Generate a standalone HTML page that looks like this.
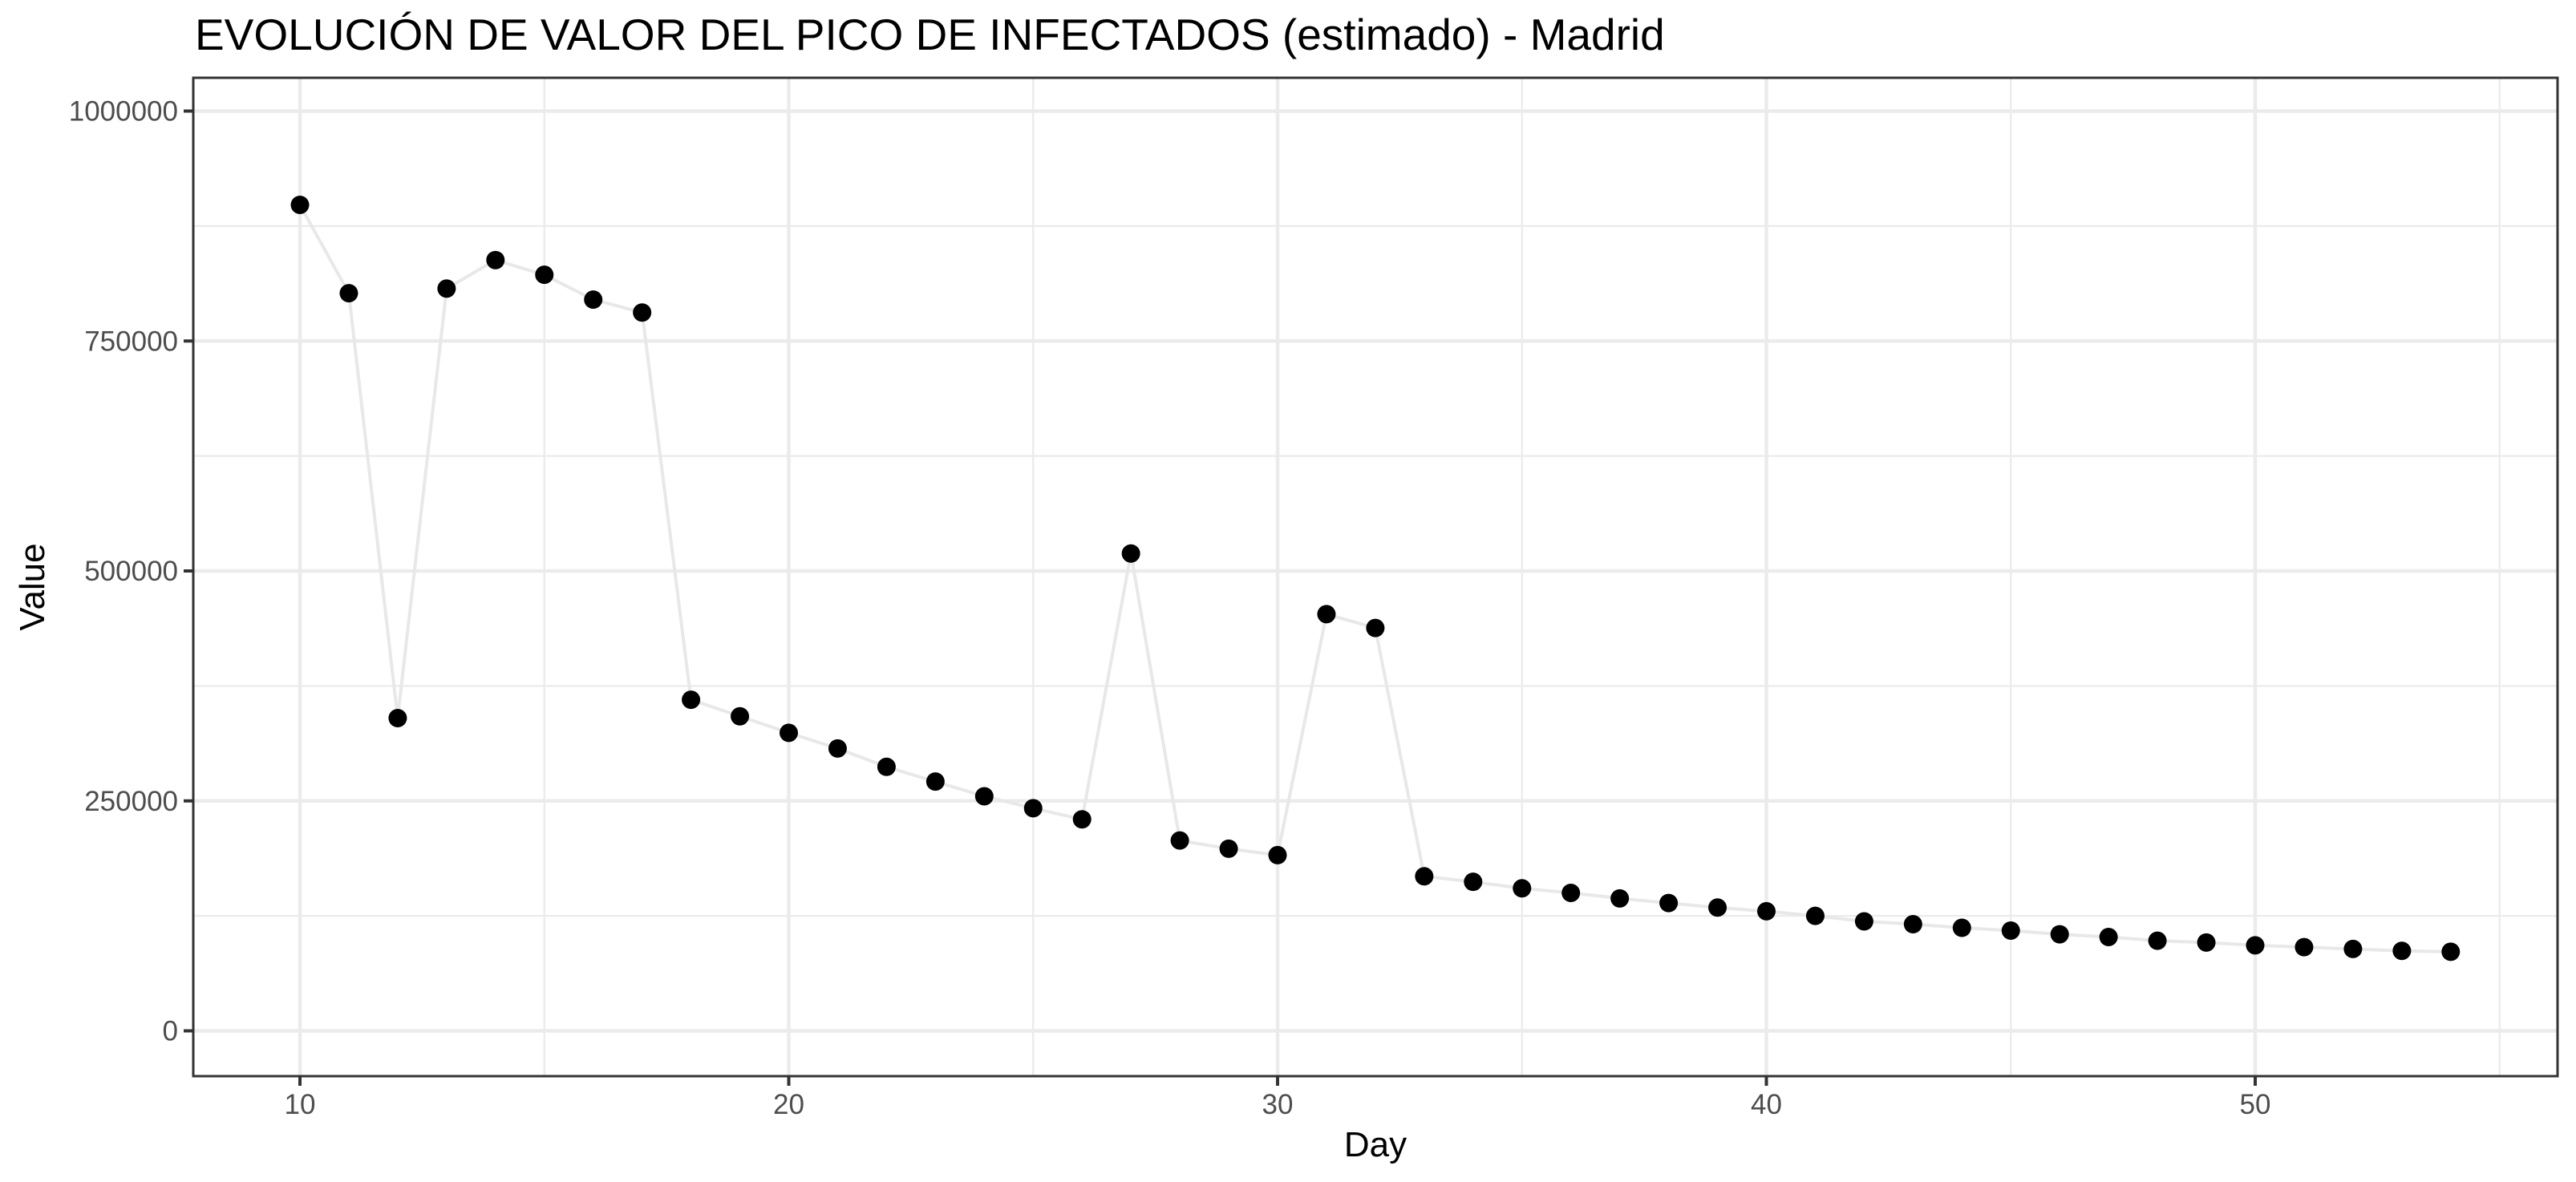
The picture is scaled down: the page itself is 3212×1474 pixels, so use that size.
<!DOCTYPE html>
<html><head><meta charset="utf-8"><style>
html,body{margin:0;padding:0;background:#fff;}
svg{display:block;font-family:"Liberation Sans",Arial,sans-serif;}
</style></head><body>
<svg id="chart" width="3212" height="1474" viewBox="0 0 3212 1474">
<rect x="0" y="0" width="3212" height="1474" fill="#fff"/>
<text x="243" y="62" font-size="55" fill="#000">EVOLUCIÓN DE VALOR DEL PICO DE INFECTADOS (estimado) - Madrid</text>
<g id="grid"></g>
<g id="series"></g>
<rect x="241" y="97" width="2948" height="1245" fill="none" stroke="#333" stroke-width="3"/>
<g id="axes"></g>
<text x="1715" y="1442" font-size="44" text-anchor="middle" fill="#000">Day</text>
<text transform="translate(55,732) rotate(-90)" font-size="44" text-anchor="middle" fill="#000">Value</text>
</svg>
<script>
const days = [10,11,12,13,14,15,16,17,18,19,20,21,22,23,24,25,26,27,28,29,30,31,32,33,34,35,36,37,38,39,40,41,42,43,44,45,46,47,48,49,50,51,52,53,54];
const values = [898000,802000,340000,807000,838000,822000,795000,781000,360000,342000,324000,307000,287000,271000,255000,242000,230000,519000,207000,198000,191000,453000,438000,168000,162000,155000,150000,144000,139000,134000,130000,125000,119000,116000,112000,109000,105000,102000,98000,96000,93000,91000,89000,87000,86000];
const xTicks = [10,20,30,40,50];
const xMinor = [15,25,35,45,55];
const yTicks = [0,250000,500000,750000,1000000];
const yMinor = [125000,375000,625000,875000];
const yTickLabels = ["0","250000","500000","750000","1000000"];

const X0=241,X1=3189,Y0=97,Y1=1342;
function xs(d){return 374+(d-10)*60.95;}
function ys(v){return 1285.5-v*(1147/1000000);}
const NS="http://www.w3.org/2000/svg";
function mk(tag,attrs,parent){const e=document.createElementNS(NS,tag);for(const k in attrs)e.setAttribute(k,attrs[k]);parent.appendChild(e);return e;}
const grid=document.getElementById('grid'),series=document.getElementById('series'),axes=document.getElementById('axes');
yMinor.forEach(v=>{const l=mk('line',{x1:X0,x2:X1,y1:ys(v),y2:ys(v),stroke:'#ebebeb','stroke-width':2.3},grid);

});
xMinor.forEach(d=>{const l=mk('line',{x1:xs(d),x2:xs(d),y1:Y0,y2:Y1,stroke:'#ebebeb','stroke-width':2.3},grid);

});
yTicks.forEach((v,i)=>{const l=mk('line',{x1:X0,x2:X1,y1:ys(v),y2:ys(v),stroke:'#ebebeb','stroke-width':4.5},grid);


const t=mk('line',{x1:229,x2:X0,y1:ys(v),y2:ys(v),stroke:'#333','stroke-width':4},axes);


const tx=mk('text',{x:222,y:ys(v)+12,'font-size':35,'text-anchor':'end',fill:'#4d4d4d'},axes);
tx.textContent=yTickLabels[i];

});
xTicks.forEach(d=>{const l=mk('line',{x1:xs(d),x2:xs(d),y1:Y0,y2:Y1,stroke:'#ebebeb','stroke-width':4.5},grid);


const t=mk('line',{x1:xs(d),x2:xs(d),y1:Y1,y2:Y1+12,stroke:'#333','stroke-width':4},axes);


const tx=mk('text',{x:xs(d),y:1389,'font-size':35,'text-anchor':'middle',fill:'#4d4d4d'},axes);
tx.textContent=String(d);

});
const pts=days.map((d,i)=>xs(d).toFixed(1)+','+ys(values[i]).toFixed(1)).join(' ');
const pl=mk('polyline',{points:pts,fill:'none',stroke:'#e8e8e8','stroke-width':4},series);


days.forEach((d,i)=>{const c=mk('circle',{cx:xs(d),cy:ys(values[i]),r:11.5,fill:'#000'},series);

});
</script>
</body></html>
